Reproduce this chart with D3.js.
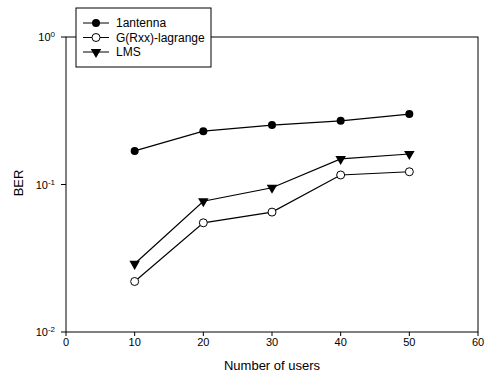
<!DOCTYPE html>
<html>
<head>
<meta charset="utf-8">
<script src="https://cdn.jsdelivr.net/npm/d3@7"></script>
<style>
body { margin: 0; background: #fff; }
text { font-family: "Liberation Sans", Arial, sans-serif; fill: #000; }
</style>
</head>
<body>
<div id="chart"></div>
<script>
var users = [10, 20, 30, 40, 50];
var ber1antenna = [0.169, 0.23, 0.253, 0.27, 0.30];
var berLagrange = [0.022, 0.055, 0.065, 0.116, 0.122];
var berLMS = [0.029, 0.077, 0.095, 0.149, 0.161];
var seriesNames = ["1antenna", "G(Rxx)-lagrange", "LMS"];
var xTicks = [0, 10, 20, 30, 40, 50, 60];
var yTicks = [0, -1, -2]; // exponents of 10

var svg = d3.select("#chart").append("svg")
    .attr("width", 486)
    .attr("height", 383);

var x = d3.scaleLinear().domain([0, 60]).range([66, 478]);
var y = d3.scaleLog().domain([0.01, 1]).range([332, 37]);

// frame
svg.append("rect")
    .attr("x", x(0)).attr("y", y(1))
    .attr("width", x(60) - x(0)).attr("height", y(0.01) - y(1))
    .attr("fill", "none").attr("stroke", "#000").attr("stroke-width", 1);

// x ticks
svg.selectAll(".xt").data(xTicks).enter().append("line")
    .attr("x1", function (d) { return x(d); })
    .attr("x2", function (d) { return x(d); })
    .attr("y1", y(0.01)).attr("y2", y(0.01) + 4)
    .attr("stroke", "#000");
svg.selectAll(".xl").data(xTicks).enter().append("text")
    .attr("x", function (d) { return x(d); })
    .attr("y", 346)
    .attr("text-anchor", "middle")
    .style("font-size", "11px")
    .text(function (d) { return d; });

// y ticks
svg.selectAll(".yt").data(yTicks).enter().append("line")
    .attr("x1", x(0) - 5).attr("x2", x(0))
    .attr("y1", function (d) { return y(Math.pow(10, d)); })
    .attr("y2", function (d) { return y(Math.pow(10, d)); })
    .attr("stroke", "#000");
var yl = svg.selectAll(".yl").data(yTicks).enter().append("text")
    .attr("x", x(0) - 11)
    .attr("y", function (d) { return y(Math.pow(10, d)) + 4; })
    .attr("text-anchor", "end")
    .style("font-size", "11px");
yl.append("tspan").text("10");
yl.append("tspan").attr("dy", -4).style("font-size", "8px")
    .text(function (d) { return d === 0 ? "0" : "-" + (-d); });

// axis titles
svg.append("text")
    .attr("transform", "translate(23," + 183 + ") rotate(-90)")
    .attr("text-anchor", "middle")
    .style("font-size", "13px")
    .text("BER");
svg.append("text")
    .attr("x", 272).attr("y", 370)
    .attr("text-anchor", "middle")
    .style("font-size", "13px")
    .text("Number of users");

var line = d3.line()
    .x(function (d) { return x(d[0]); })
    .y(function (d) { return y(d[1]); });

var allSeries = [ber1antenna, berLagrange, berLMS];
var tri = d3.symbol().type(d3.symbolTriangle).size(48);

function drawMarker(g, k) {
    if (k === 0) {
        g.append("circle").attr("r", 4).attr("fill", "#000");
    } else if (k === 1) {
        g.append("circle").attr("r", 4).attr("fill", "#fff").attr("stroke", "#000");
    } else {
        g.append("path").attr("d", tri).attr("transform", "rotate(180)").attr("fill", "#000");
    }
}

allSeries.forEach(function (vals, k) {
    var pts = users.map(function (u, i) { return [u, vals[i]]; });
    svg.append("path")
        .datum(pts)
        .attr("d", line)
        .attr("fill", "none")
        .attr("stroke", "#000")
        .attr("stroke-width", 1.2);
    pts.forEach(function (p) {
        var g = svg.append("g").attr("transform", "translate(" + x(p[0]) + "," + y(p[1]) + ")");
        drawMarker(g, k);
    });
});

// legend
var lg = svg.append("g");
lg.append("rect")
    .attr("x", 76).attr("y", 8).attr("width", 135).attr("height", 59)
    .attr("fill", "#fff").attr("stroke", "#000");
seriesNames.forEach(function (name, k) {
    var ly = 23 + k * 14.5;
    lg.append("line").attr("x1", 83).attr("x2", 109)
        .attr("y1", ly).attr("y2", ly).attr("stroke", "#000");
    var g = lg.append("g").attr("transform", "translate(96," + ly + ")");
    drawMarker(g, k);
    lg.append("text").attr("x", 116).attr("y", ly + 4)
        .style("font-size", "12px")
        .text(name);
});
</script>
</body>
</html>
